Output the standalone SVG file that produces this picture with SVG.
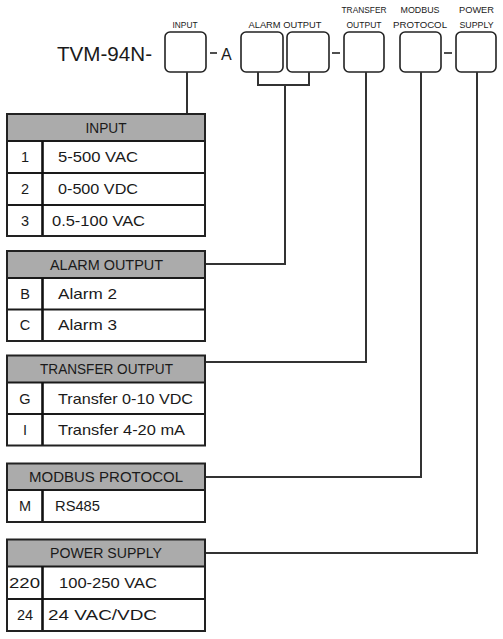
<svg xmlns="http://www.w3.org/2000/svg" width="503" height="639" viewBox="0 0 503 639">
<style>
text{font-family:"Liberation Sans",Arial,sans-serif;fill:#1a1a1a}
.t{font-size:14.5px}
.h{font-size:14.5px;text-anchor:middle}
.c{font-size:14.5px;text-anchor:middle}
.s{font-size:9px;text-anchor:middle}
.box{fill:#fff;stroke:#222;stroke-width:1.6}
.hd{fill:#ababab;stroke:none}
.ol{fill:none;stroke:#222;stroke-width:2}
.rl{stroke:#1a1a1a;stroke-width:2}
.cl{stroke:#111;stroke-width:2.6}
.con{fill:none;stroke:#333;stroke-width:2}
</style>
<rect width="503" height="639" fill="#fff"/>
<g id="code">
<text x="57" y="61" style="font-size:21px" textLength="95" lengthAdjust="spacingAndGlyphs">TVM-94N-</text>
<rect id="box-input" class="box" x="165" y="32" width="41" height="40" rx="5"/>
<text class="s" x="185" y="28" textLength="25" lengthAdjust="spacingAndGlyphs">INPUT</text>
<line x1="210" y1="53" x2="217" y2="53" stroke="#222" stroke-width="1.6"/>
<text x="221" y="60" style="font-size:16px">A</text>
<rect class="box" x="241" y="32" width="42" height="40" rx="5"/>
<rect class="box" x="287" y="32" width="42" height="40" rx="5"/>
<text class="s" x="285" y="28" textLength="73" lengthAdjust="spacingAndGlyphs">ALARM OUTPUT</text>
<line x1="332" y1="53" x2="340" y2="53" stroke="#222" stroke-width="1.6"/>
<rect class="box" x="344" y="32" width="40" height="40" rx="5"/>
<text class="s" x="364" y="13" textLength="45" lengthAdjust="spacingAndGlyphs">TRANSFER</text>
<text class="s" x="364" y="28" textLength="35" lengthAdjust="spacingAndGlyphs">OUTPUT</text>
<rect class="box" x="400" y="32" width="41" height="40" rx="5"/>
<text class="s" x="420" y="13" textLength="39" lengthAdjust="spacingAndGlyphs">MODBUS</text>
<text class="s" x="420" y="28" textLength="54" lengthAdjust="spacingAndGlyphs">PROTOCOL</text>
<line x1="444" y1="53" x2="452" y2="53" stroke="#222" stroke-width="1.6"/>
<rect class="box" x="456" y="32" width="40" height="40" rx="5"/>
<text class="s" x="476.5" y="13" textLength="35" lengthAdjust="spacingAndGlyphs">POWER</text>
<text class="s" x="476.5" y="28" textLength="34" lengthAdjust="spacingAndGlyphs">SUPPLY</text>
</g>
<g id="connectors">
<path class="con" d="M187 72V114"/>
<path class="con" d="M258 72V85H309V72"/>
<path class="con" d="M285 85V264H206"/>
<path class="con" d="M366 72V362H206"/>
<path class="con" d="M421 72V477H206"/>
<path class="con" d="M477 72V553H206"/>
</g>
<g id="table-input">
<rect class="hd" x="7" y="114" width="198" height="27"/>
<line class="rl" x1="7" y1="141" x2="205" y2="141"/>
<line class="rl" x1="7" y1="173" x2="205" y2="173"/>
<line class="rl" x1="7" y1="205" x2="205" y2="205"/>
<line class="cl" x1="42.5" y1="141" x2="42.5" y2="236"/>
<rect class="ol" x="7" y="114" width="198" height="122"/>
<text class="h" x="106" y="133" textLength="41" lengthAdjust="spacingAndGlyphs">INPUT</text>
<text class="c" x="25" y="162">1</text>
<text class="t" x="58" y="162" textLength="80" lengthAdjust="spacingAndGlyphs">5-500 VAC</text>
<text class="c" x="25" y="194">2</text>
<text class="t" x="58" y="194" textLength="80" lengthAdjust="spacingAndGlyphs">0-500 VDC</text>
<text class="c" x="25" y="226">3</text>
<text class="t" x="52" y="226" textLength="93" lengthAdjust="spacingAndGlyphs">0.5-100 VAC</text>
</g>
<g id="table-alarm">
<rect class="hd" x="7" y="251" width="198" height="27"/>
<line class="rl" x1="7" y1="278" x2="205" y2="278"/>
<line class="rl" x1="7" y1="309.5" x2="205" y2="309.5"/>
<line class="cl" x1="42.5" y1="278" x2="42.5" y2="341"/>
<rect class="ol" x="7" y="251" width="198" height="90"/>
<text class="h" x="106.5" y="270" textLength="113" lengthAdjust="spacingAndGlyphs">ALARM OUTPUT</text>
<text class="c" x="25" y="299">B</text>
<text class="t" x="58" y="299" textLength="59" lengthAdjust="spacingAndGlyphs">Alarm 2</text>
<text class="c" x="25" y="330">C</text>
<text class="t" x="58" y="330" textLength="59" lengthAdjust="spacingAndGlyphs">Alarm 3</text>
</g>
<g id="table-transfer">
<rect class="hd" x="7" y="355.5" width="198" height="27"/>
<line class="rl" x1="7" y1="382.5" x2="205" y2="382.5"/>
<line class="rl" x1="7" y1="414" x2="205" y2="414"/>
<line class="cl" x1="42.5" y1="382.5" x2="42.5" y2="445.5"/>
<rect class="ol" x="7" y="355.5" width="198" height="90"/>
<text class="h" x="106.5" y="374" textLength="133" lengthAdjust="spacingAndGlyphs">TRANSFER OUTPUT</text>
<text class="c" x="25" y="403.5">G</text>
<text class="t" x="58" y="403.5" textLength="135" lengthAdjust="spacingAndGlyphs">Transfer 0-10 VDC</text>
<text class="c" x="25" y="435">I</text>
<text class="t" x="58" y="435" textLength="127" lengthAdjust="spacingAndGlyphs">Transfer 4-20 mA</text>
</g>
<g id="table-modbus">
<rect class="hd" x="7" y="463.5" width="198" height="26.5"/>
<line class="rl" x1="7" y1="490" x2="205" y2="490"/>
<line class="cl" x1="42.5" y1="490" x2="42.5" y2="522"/>
<rect class="ol" x="7" y="463.5" width="198" height="58.5"/>
<text class="h" x="106" y="482" textLength="154" lengthAdjust="spacingAndGlyphs">MODBUS PROTOCOL</text>
<text class="c" x="25" y="511">M</text>
<text class="t" x="55" y="511" textLength="45" lengthAdjust="spacingAndGlyphs">RS485</text>
</g>
<g id="table-power">
<rect class="hd" x="7" y="539.5" width="198" height="27"/>
<line class="rl" x1="7" y1="566.5" x2="205" y2="566.5"/>
<line class="rl" x1="7" y1="599" x2="205" y2="599"/>
<line class="cl" x1="42.5" y1="566.5" x2="42.5" y2="631"/>
<rect class="ol" x="7" y="539.5" width="198" height="91.5"/>
<text class="h" x="106" y="558" textLength="112" lengthAdjust="spacingAndGlyphs">POWER SUPPLY</text>
<text class="c" x="24.5" y="588" textLength="31" lengthAdjust="spacingAndGlyphs">220</text>
<text class="t" x="59" y="588" textLength="98" lengthAdjust="spacingAndGlyphs">100-250 VAC</text>
<text class="c" x="25" y="620">24</text>
<text class="t" x="48" y="620" textLength="109" lengthAdjust="spacingAndGlyphs">24 VAC/VDC</text>
</g>
</svg>
